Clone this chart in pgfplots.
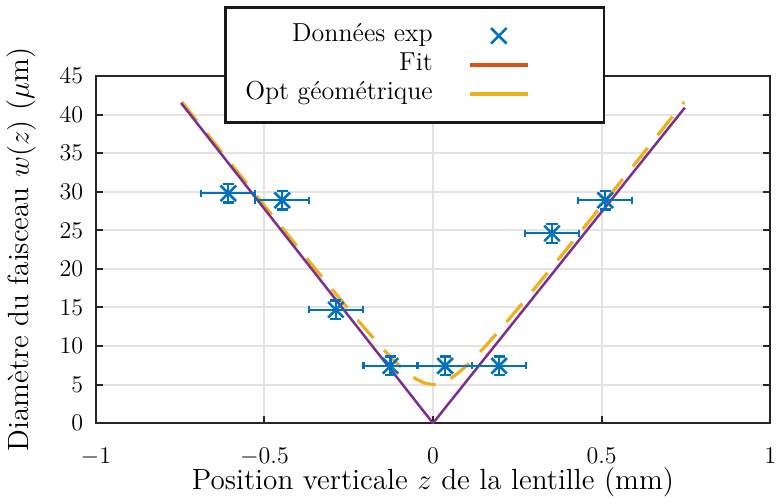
\documentclass[border=0pt]{standalone}
\usepackage{pgfplots}
\pgfplotsset{compat=1.18}
\definecolor{mblue}{HTML}{0072BD}
\definecolor{morange}{HTML}{D95319}
\definecolor{myellow}{HTML}{EDB120}
\definecolor{mpurple}{HTML}{7E2F8E}

\begin{document}
\begin{tikzpicture}
\begin{axis}[
  scale only axis, width=337pt, height=173.5pt,
  xmin=-1, xmax=1, ymin=0, ymax=45,
  xtick={-1,-0.5,0,0.5,1}, ytick={0,5,...,45},
  tick align=inside, major tick length=3.5pt,
  grid=major, major grid style={line width=1pt, color=gray!22},
  axis line style={line width=1pt, black!85},
  every tick/.style={line width=1pt, black!85},
  tick label style={font=\fontsize{12.5}{15}\selectfont},
  xticklabel style={yshift=-8.8pt, inner xsep=0pt},
  yticklabel style={xshift=-2.8pt},
  label style={font=\fontsize{14.6}{17}\selectfont},
  xlabel style={yshift=5.5pt},
  ylabel style={yshift=5pt},
  xlabel={Position verticale $z$ de la lentille (mm)},
  ylabel={Diamètre du faisceau $w(z)$ ($\mu$m)},
  legend plot pos=right, legend cell align=right,
  legend style={at={(0.19,1.2017)}, anchor=north west, draw=black!90, line width=1.3pt,
    font=\fontsize{13}{15.6}\selectfont, inner xsep=10pt, inner ysep=8pt, row sep=2pt,
    nodes={inner sep=0pt, text height=9pt, text depth=3.5pt}},
]
% legende
\addlegendimage{mblue, line width=1.3pt, legend image code/.code={
  \draw[mark=x, mark size=5.5pt] plot coordinates {(14.5pt,0pt)};
  \path (-17.5pt,0pt) (56pt,0pt);}}
\addlegendentry{Données exp}
\addlegendimage{morange, line width=2pt, legend image code/.code={
  \draw (0pt,0pt) -- (29pt,0pt); \path (-17.5pt,0pt) (56pt,0pt);}}
\addlegendentry{Fit}
\addlegendimage{myellow, line width=2pt, legend image code/.code={
  \draw (0pt,0pt) -- (29pt,0pt); \path (-17.5pt,0pt) (56pt,0pt);}}
\addlegendentry{Opt géométrique}

% optique geometrique (hyperbole)
\addplot[myellow, line width=1.6pt, dash pattern=on 12pt off 8pt, forget plot] table {
z w
-0.745 41.649
-0.70 39.171
-0.65 36.420
-0.60 33.673
-0.55 30.932
-0.50 28.197
-0.45 25.471
-0.40 22.756
-0.35 20.058
-0.30 17.385
-0.25 14.749
-0.20 12.174
-0.15 9.711
-0.125 8.552
-0.10 7.470
-0.075 6.506
-0.05 5.718
-0.025 5.189
0 5
0.025 5.189
0.05 5.718
0.075 6.506
0.10 7.470
0.125 8.552
0.15 9.711
0.20 12.174
0.25 14.749
0.30 17.385
0.35 20.058
0.40 22.756
0.45 25.471
0.50 28.197
0.55 30.932
0.60 33.673
0.65 36.420
0.70 39.171
0.745 41.649
};

% fit
\addplot[mpurple, line width=1.25pt, forget plot] coordinates {
  (-0.747,41.5) (0,0) (0.747,40.9)
};

\pgfplotstableread{
x y ex ey
-0.607 29.8 0.08 1.2
-0.447 28.9 0.08 1.2
-0.288 14.7 0.08 1.2
-0.126 7.43 0.08 1.2
0.036 7.43 0.08 1.2
0.196 7.43 0.08 1.2
0.353 24.6 0.08 1.2
0.511 28.9 0.08 1.2
}\donnees

% donnees : barres horizontales
\addplot[mblue, draw=none, mark=none, forget plot,
  error bars/.cd, x dir=both, x explicit,
  error bar style={draw=mblue, line width=1.1pt},
  error mark options={rotate=90, mark size=1.75pt, draw=mblue, line width=1.1pt}]
  table[x=x, y=y, x error=ex] {\donnees};

% donnees : points et barres verticales
\addplot[only marks, mark=x, mblue, mark size=5.5pt, line width=1.3pt, forget plot,
  error bars/.cd, y dir=both, y explicit,
  error bar style={line width=1.1pt},
  error mark options={rotate=90, mark size=2.75pt, line width=1.1pt}]
  table[x=x, y=y, y error=ey] {\donnees};
\end{axis}
\path ([yshift=3pt]current bounding box.north);
\end{tikzpicture}
\end{document}
